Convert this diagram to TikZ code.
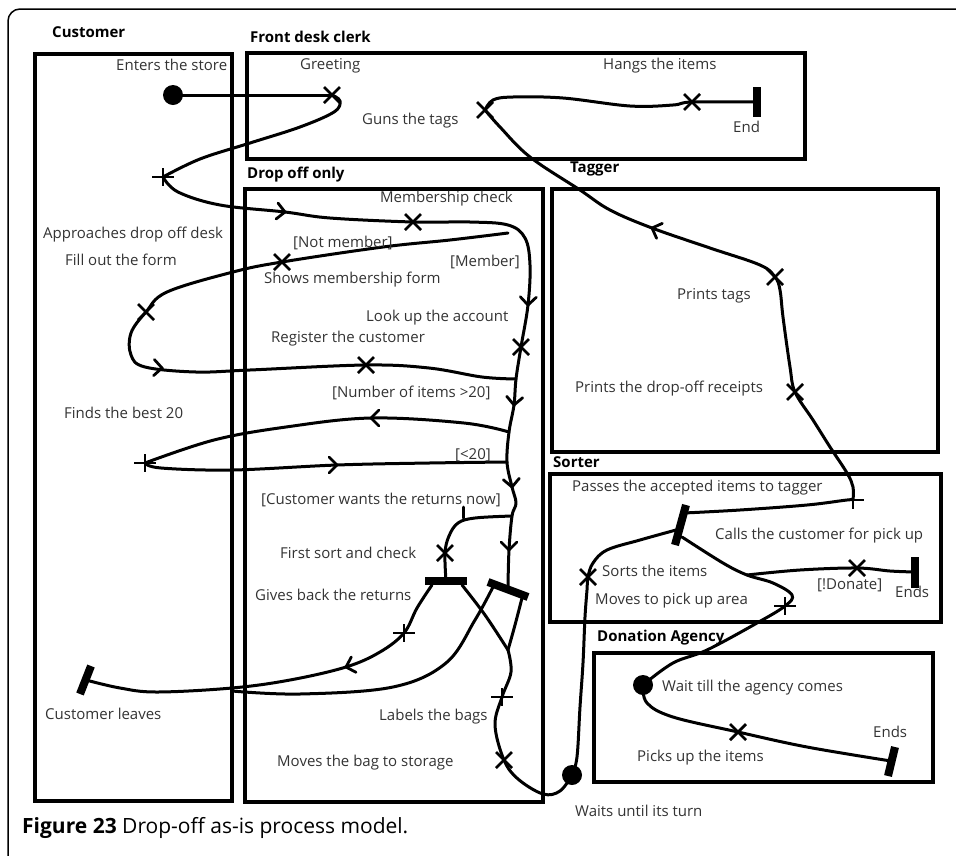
\documentclass[tikz,border=0pt]{standalone}
\usepackage{fontspec}
\setmainfont{Open Sans}
\begin{document}
\begin{tikzpicture}[x=1pt,y=-1pt,
  lane/.style={draw,line width=3.2pt},
  flow/.style={line width=3pt,line cap=round,line join=round},
  barline/.style={line width=8pt},
  lanename/.style={anchor=west,inner sep=0pt,font=\bfseries\fontsize{15}{17}\selectfont},
  act/.style={anchor=west,inner sep=0pt,text=black!80,font=\fontsize{15}{17}\selectfont},
  xmark/.pic={\draw[line width=2.8pt] (-8,-8) -- (8,8) (-8,8) -- (8,-8);},
  pmark/.pic={\draw[line width=2.8pt] (-11,0) -- (11,0) (0,-9) -- (0,9);},
  chev/.pic={\draw[line width=2.8pt,line cap=round] (-8,-8) -- (0,0) -- (-8,8);}]

\useasboundingbox (0,0) rectangle (956,855);
\draw[line width=1.5pt,rounded corners=12pt] (958,9) -- (8,9) -- (8,857); %frame

% lanes
\draw[lane] (35,54) rectangle (232,801);
\draw[lane] (247,53) rectangle (805,159);
\draw[lane] (245,189) rectangle (543,802);
\draw[lane] (552,189) rectangle (938,452);
\draw[lane] (550,474) rectangle (941,622);
\draw[lane] (594,653) rectangle (933,782);

\node[lanename] (customer) at (52,32) {Customer};
\node[lanename] (clerk) at (250,37) {Front desk clerk};
\node[lanename] (dropoff) at (247,175) {Drop off only};
\node[lanename] (tagger) at (570,169) {Tagger};
\node[lanename] (sorter) at (553,462) {Sorter};
\node[lanename] (agency) at (597,638) {Donation Agency};

% activity points
\coordinate (enter) at (173,95);
\coordinate (greet) at (332,95);
\coordinate (approach) at (163,177);
\coordinate (member) at (413,222);
\coordinate (notmem) at (508,233);
\coordinate (showform) at (282,262);
\coordinate (fillform) at (146,312);
\coordinate (register) at (366,365);
\coordinate (lookup) at (521,347);
\coordinate (joinreg) at (516,379);
\coordinate (over20) at (509,432);
\coordinate (best20) at (145,463);
\coordinate (under20) at (507,462);
\coordinate (returns) at (512,516);
\coordinate (firstsort) at (445,553);
\coordinate (forkA) at (446,581);
\coordinate (forkB) at (508,587);
\coordinate (giveback) at (404,633);
\coordinate (leave) at (86,680);
\coordinate (merge) at (508,650);
\coordinate (labels) at (502,697);
\coordinate (storage) at (504,760);
\coordinate (wait) at (572,775);
\coordinate (sorts) at (588,577);
\coordinate (sortbar) at (680,525);
\coordinate (pass) at (853,500);
\coordinate (receipts) at (795,392);
\coordinate (tags) at (775,277);
\coordinate (guns) at (485,110);
\coordinate (hang) at (692,102);
\coordinate (clerkend) at (757,102);
\coordinate (donate) at (747,575);
\coordinate (calls) at (857,568);
\coordinate (sortend) at (915,572);
\coordinate (pickarea) at (785,606);
\coordinate (agencydot) at (643,685);
\coordinate (pickup) at (738,732);
\coordinate (agencyend) at (891,761);

% flows
\draw[flow] (enter) -- (greet);
\draw[flow] plot[smooth,tension=.6] coordinates {(greet) (340,101) (334,112) (300,127) (250,143) (200,159) (approach)};
\draw[flow] plot[smooth,tension=.6] coordinates {(approach) (178,192) (220,205) (285,212) (330,218) (member) (470,222) (508,225) (525,238) (530,265) (528,305) (lookup) (joinreg) (514,405) (over20) (under20) (512,487) (516,503) (returns) (509,550) (forkB)};
\draw[flow] plot[smooth,tension=.6] coordinates {(returns) (475,518) (458,523) (449,536) (firstsort) (forkA)};
\draw[flow] (463,507) -- (463,518);
\draw[flow] plot[smooth,tension=.6] coordinates {(notmem) (450,240) (383,247) (showform) (233,272) (167,292) (fillform) (131,333) (131,355) (145,367) (196,372) (250,370) (register) (429,368) (482,377) (joinreg)};
\draw[flow] plot[smooth,tension=.6] coordinates {(over20) (464,423) (371,418) (286,427) (214,440) (best20)};
\draw[flow] plot[smooth,tension=.6] coordinates {(best20) (161,468) (232,470) (337,465) (429,463) (under20)};
\draw[flow] plot[smooth,tension=.6] coordinates {(432,585) (417,608) (giveback) (380,652) (346,667) (290,680) (232,688) (157,692) (120,688) (leave)};
\draw[flow] plot[smooth,tension=.6] coordinates {(494,585) (475,620) (446,663) (393,687) (300,694) (232,691)};
\draw[flow] plot[smooth,tension=.6] coordinates {(462,585) (485,615) (merge)};
\draw[flow] plot[smooth,tension=.6] coordinates {(522,598) (515,625) (merge)};
\draw[flow] plot[smooth,tension=.6] coordinates {(merge) (511,672) (labels) (495,725) (storage) (518,779) (543,794) (560,791) (wait)};
\draw[flow] plot[smooth,tension=.6] coordinates {(wait) (577,757) (580,707) (583,663) (585,617) (587,590) (sorts) (593,563) (607,550) (640,540) (676,530)};
\draw[flow] plot[smooth,tension=.6] coordinates {(684,513) (740,510) (807,505) (847,500) (pass)};
\draw[flow] plot[smooth,tension=.6] coordinates {(pass) (853,487) (847,473) (830,447) (813,420) (receipts) (790,367) (783,317) (780,290) (tags) (760,265) (710,248) (652,228) (610,210) (580,190) (530,157) (500,127) (guns)};
\draw[flow] plot[smooth,tension=.6] coordinates {(guns) (493,100) (513,97) (563,98) (630,106) (673,105) (hang) (clerkend)};
\draw[flow] plot[smooth,tension=.6] coordinates {(682,537) (723,563) (donate) (773,583) (792,595) (pickarea) (757,623) (707,650) (673,663) (agencydot)};
\draw[flow] plot[smooth,tension=.6] coordinates {(donate) (800,570) (calls) (890,571) (sortend)};
\draw[flow] plot[smooth,tension=.6] coordinates {(agencydot) (647,703) (673,717) (pickup) (807,747) (agencyend)};

% start, wait and end bars
\fill (enter) circle[radius=10pt];
\fill (wait) circle[radius=10pt];
\fill (agencydot) circle[radius=10pt];
\draw[barline] (425,581) -- (467,581);
\draw[barline] (488,582) -- (528,597);
\draw[barline] (675,545) -- (686,505);
\draw[barline] (757,87) -- (757,117);
\draw[barline] (915,557) -- (915,588);
\draw[barline] (895,747) -- (888,776);
\draw[barline] (80,694) -- (91,666);

% marks
\foreach \p in {greet,member,showform,fillform,register,lookup,firstsort,storage,sorts,receipts,tags,guns,hang,calls,pickup}
  \pic at (\p) {xmark};
\foreach \p in {approach,best20,labels,pass,pickarea,giveback}
  \pic at (\p) {pmark};
\pic[rotate=-7] at (285,212) {chev};
\pic[rotate=-92] at (528,305) {chev};
\pic[rotate=-95] at (514,405) {chev};
\pic[rotate=-85] at (512,487) {chev};
\pic[rotate=-90] at (509,550) {chev};
\pic[rotate=-3] at (162,368) {chev};
\pic[rotate=180] at (371,418) {chev};
\pic at (337,465) {chev};
\pic[rotate=197] at (346,667) {chev};
\pic[rotate=159] at (652,228) {chev};

% labels
\node[act] (enterlbl) at (116,65) {Enters the store};
\node[act] (greetlbl) at (300,66) {Greeting};
\node[act] (hanglbl) at (603,66) {Hangs the items};
\node[act] (gunslbl) at (362,121) {Guns the tags};
\node[act] (endlbl) at (733,127) {End};
\node[act] (memberlbl) at (380,199) {Membership check};
\node[act] (approachlbl) at (43,235) {Approaches drop off desk};
\node[act] (notmemlbl) at (293,243) {[Not member]};
\node[act] (filllbl) at (65,260) {Fill out the form};
\node[act] (memlbl) at (450,262) {[Member]};
\node[act] (showlbl) at (264,280) {Shows membership form};
\node[act] (tagslbl) at (677,296) {Prints tags};
\node[act] (lookuplbl) at (366,318) {Look up the account};
\node[act] (registerlbl) at (271,339) {Register the customer};
\node[act] (receiptslbl) at (575,389) {Prints the drop-off receipts};
\node[act] (over20lbl) at (332,393) {[Number of items >20]};
\node[act] (best20lbl) at (64,413) {Finds the best 20};
\node[act] (under20lbl) at (455,455) {[<20]};
\node[act] (passlbl) at (572,488) {Passes the accepted items to tagger};
\node[act] (returnslbl) at (261,500) {[Customer wants the returns now]};
\node[act] (callslbl) at (715,536) {Calls the customer for pick up};
\node[act] (firstlbl) at (280,553) {First sort and check};
\node[act] (sortslbl) at (602,571) {Sorts the items};
\node[act] (donatelbl) at (817,585) {[!Donate]};
\node[act] (sortendlbl) at (895,592) {Ends};
\node[act] (givelbl) at (255,595) {Gives back the returns};
\node[act] (pickarealbl) at (595,601) {Moves to pick up area};
\node[act] (agencywaitlbl) at (662,688) {Wait till the agency comes};
\node[act] (leavelbl) at (45,714) {Customer leaves};
\node[act] (labelslbl) at (379,717) {Labels the bags};
\node[act] (agencyendlbl) at (873,732) {Ends};
\node[act] (pickuplbl) at (637,758) {Picks up the items};
\node[act] (storagelbl) at (277,763) {Moves the bag to storage};
\node[act] (waitlbl) at (575,811) {Waits until its turn};

\node[anchor=west,inner sep=0pt,font=\fontsize{21}{23}\selectfont] (caption) at (22,828) {\textbf{Figure 23} Drop-off as-is process model.};
\end{tikzpicture}
\end{document}
